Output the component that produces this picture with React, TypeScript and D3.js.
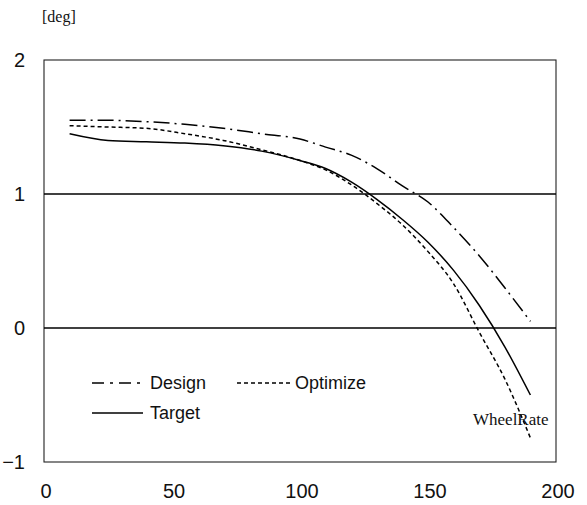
import React from "react";
import * as d3 from "d3";

const xValues = [10, 25, 40, 55, 70, 85, 100, 110, 120, 130, 140, 150, 160, 170, 180, 190];
const designValues = [1.55, 1.55, 1.54, 1.52, 1.49, 1.45, 1.41, 1.35, 1.29, 1.19, 1.06, 0.94, 0.75, 0.54, 0.30, 0.05];
const optimizeValues = [1.51, 1.50, 1.49, 1.45, 1.40, 1.33, 1.25, 1.18, 1.07, 0.93, 0.77, 0.57, 0.33, -0.03, -0.38, -0.82];
const targetValues = [1.45, 1.40, 1.39, 1.38, 1.36, 1.32, 1.25, 1.19, 1.09, 0.96, 0.81, 0.64, 0.43, 0.17, -0.14, -0.50];
const xTicks = [0, 50, 100, 150, 200];
const yTicks = [2, 1, 0, -1];
const gridValues = [1, 0];

const W = 587, H = 505;
const left = 44, right = 556, top = 60, bottom = 462;

export default function App() {
  const x = d3.scaleLinear().domain([0, 200]).range([left, right]);
  const y = d3.scaleLinear().domain([-1, 2]).range([bottom, top]);
  const line = d3
    .line<[number, number]>()
    .x((d) => x(d[0]))
    .y((d) => y(d[1]))
    .curve(d3.curveMonotoneX);
  const mk = (vals: number[]) => line(xValues.map((v, i) => [v, vals[i]] as [number, number])) || "";

  const sans = "'Liberation Sans', Arial, sans-serif";
  const serif = "'Liberation Serif', 'Times New Roman', serif";

  return (
    <svg width={W} height={H} style={{ position: "absolute", left: 0, top: 0, background: "#fff" }}>
      <rect x={0} y={0} width={W} height={H} fill="#fff" />
      <text x={42} y={22} fontFamily={serif} fontSize={16} fill="#111">[deg]</text>
      <rect x={left} y={top} width={right - left} height={bottom - top} fill="none" stroke="#222" strokeWidth={1.1} />
      {gridValues.map((g) => (
        <line key={g} x1={left} x2={right} y1={y(g)} y2={y(g)} stroke="#000" strokeWidth={1.5} />
      ))}
      {yTicks.map((t) => (
        <text key={t} x={25} y={y(t) + 7} textAnchor="end" fontFamily={sans} fontSize={20} fill="#111">
          {t < 0 ? "\u2212" + Math.abs(t) : t}
        </text>
      ))}
      {xTicks.map((t) => (
        <text key={t} x={x(t) + 2} y={498} textAnchor="middle" fontFamily={sans} fontSize={20} fill="#111">
          {t}
        </text>
      ))}
      <path d={mk(designValues)} fill="none" stroke="#000" strokeWidth={1.5} strokeDasharray="16,5,2,5" />
      <path d={mk(optimizeValues)} fill="none" stroke="#000" strokeWidth={1.5} strokeDasharray="4,3" />
      <path d={mk(targetValues)} fill="none" stroke="#000" strokeWidth={1.5} />
      <line x1={92} x2={142} y1={383} y2={383} stroke="#000" strokeWidth={1.5} strokeDasharray="12,6,3,6" />
      <text x={150} y={389} fontFamily={sans} fontSize={18} fill="#111">Design</text>
      <line x1={237} x2={293} y1={383} y2={383} stroke="#000" strokeWidth={1.5} strokeDasharray="4,3" />
      <text x={295} y={389} fontFamily={sans} fontSize={18} fill="#111">Optimize</text>
      <line x1={92} x2={143} y1={413} y2={413} stroke="#000" strokeWidth={1.5} />
      <text x={150} y={419} fontFamily={sans} fontSize={18} fill="#111">Target</text>
      <text x={473} y={425} fontFamily={serif} fontSize={17} fill="#111">WheelRate</text>
    </svg>
  );
}
